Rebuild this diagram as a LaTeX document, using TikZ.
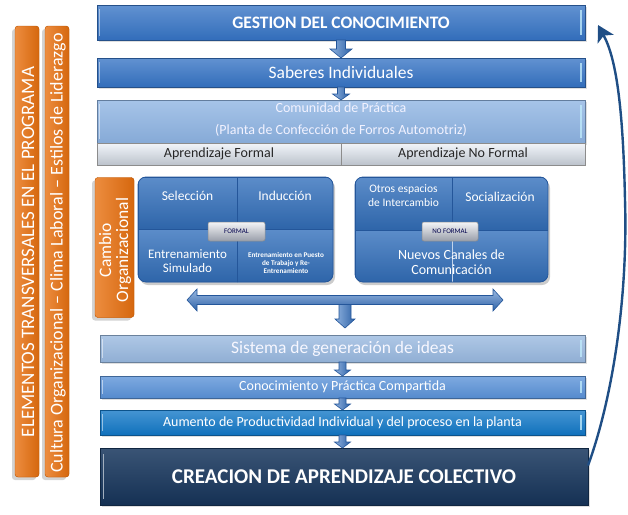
\documentclass[tikz,border=0pt]{standalone}
\usepackage{fontspec}
\setmainfont{Carlito}
\usetikzlibrary{calc,arrows.meta,shadows}
\definecolor{barblue}{HTML}{3573C4}
\definecolor{commblue}{HTML}{8DB3E2}
\definecolor{aprgray}{HTML}{DDE5F0}
\definecolor{cellblue}{HTML}{3370BC}
\definecolor{orangeb}{HTML}{E8700F}
\definecolor{sisblue}{HTML}{98B8DF}
\definecolor{conblue}{HTML}{5A92D8}
\definecolor{aumblue}{HTML}{1177C6}
\definecolor{navy}{HTML}{17365D}
\definecolor{curveblue}{HTML}{1F4E85}
\definecolor{edgeblue}{HTML}{24569A}
\definecolor{lblgray}{HTML}{B4BAC8}
\newcommand\blockdown[5]{%
  \draw[blockarrow] let \p1=(#1), \p2=(#2) in
   (\x1-#3pt,\y1) -- (\x1+#3pt,\y1) -- (\x1+#3pt,\y2+#5pt) -- (\x1+#4pt,\y2+#5pt)
   -- (\x1,\y2) -- (\x1-#4pt,\y2+#5pt) -- (\x1-#3pt,\y2+#5pt) -- cycle;}
\newcommand\barhl[1]{%
  \draw[white!75!cyan, line width=1.4pt, opacity=0.8]
    ([xshift=-4pt,yshift=-5pt]#1.north east) -- ([xshift=-4pt,yshift=5pt]#1.south east);
  \draw[white, line width=1pt, opacity=0.5]
    ([xshift=2.5pt,yshift=-4pt]#1.north west) -- ([xshift=2.5pt,yshift=4pt]#1.south west);}
\tikzset{
  fnt/.style 2 args={font=\fontsize{#1}{#2}\selectfont},
  shad/.style={drop shadow={opacity=0.25, shadow xshift=1.5pt, shadow yshift=-2pt}},
  hbar/.style={rectangle, draw=#1!70!black, line width=0.5pt, top color=#1!78!white,
     bottom color=#1!95!black, text=white, shad},
  cell/.style={rectangle, draw=edgeblue, line width=0.6pt, top color=cellblue!80!white,
     bottom color=cellblue!90!black},
  celltext/.style={text=white, align=center},
  lbl/.style={rectangle, rounded corners=2pt, draw=black!45, line width=0.5pt,
     top color=white!85!lblgray, bottom color=lblgray!85!black, minimum width=57,
     minimum height=19, text=black!70!blue, fnt={7}{8}},
  obar/.style={rectangle, rounded corners=3pt, fill=orangeb, left color=orangeb!80!white,
     right color=orangeb!92!black, draw=orangeb!80!black, line width=0.4pt,
     drop shadow={opacity=0.35, shadow xshift=-3pt, shadow yshift=-3pt}},
  blockarrow/.style={draw=edgeblue, line width=0.6pt, left color=barblue!55!white,
     right color=barblue!85!black},
  hblockarrow/.style={draw=edgeblue, line width=0.6pt, top color=barblue!50!white,
     bottom color=barblue!85!black},
  curvearrow/.style={draw=curveblue, line width=2.4pt,
     -{Stealth[length=16pt,width=18pt,inset=4pt]}},
}
\begin{document}
\begin{tikzpicture}[x=1pt,y=-1pt, every node/.style={inner sep=0pt, outer sep=0pt}]
\useasboundingbox (0,0) rectangle (628,514);

% orange side bars
\node[obar, minimum width=24, minimum height=451] (ob1) at (27,251.5) {};
\node[obar, minimum width=24, minimum height=451] (ob2) at (57,251.5) {};
\node[rotate=90, text=white, fnt={19}{20}] (ob1t) at (28,252) {ELEMENTOS TRANSVERSALES EN EL PROGRAMA};
\node[rotate=90, text=white, fnt={18}{20}] (ob2t) at (58,253) {Cultura Organizacional – Clima Laboral – Estilos de Liderazgo};

% top bars
\node[hbar=barblue, minimum width=488, minimum height=35, fnt={17.5}{20}] (gestion) at (341,22.5) {\bfseries GESTION DEL CONOCIMIENTO};
\node[hbar=barblue, minimum width=488, minimum height=29, fnt={17.5}{20}] (saberes) at (341,72.5) {Saberes Individuales};
\node[hbar=commblue, minimum width=488, minimum height=43] (comunidad) at (341,121.5) {};
\node[text=white!95!blue, fnt={14}{16}] (com1) at (341,108) {Comunidad de Práctica};
\node[text=white!95!blue, fnt={14}{16}] (com2) at (341,130) {(Planta de Confección de Forros Automotriz)};
\node[rectangle, draw=black!45, line width=0.5pt, top color=white!60!aprgray, bottom color=aprgray!85!black,
      minimum width=244, minimum height=22, fnt={14}{16}, text=black!85] (aprF) at (219,154) {Aprendizaje Formal};
\node[rectangle, draw=black!45, line width=0.5pt, top color=white!60!aprgray, bottom color=aprgray!85!black,
      minimum width=244, minimum height=22, fnt={14}{16}, text=black!85] (aprNF) at (463,154) {Aprendizaje No Formal};
\barhl{gestion}
\barhl{saberes}
\barhl{comunidad}

% arrows between top bars
\blockdown{gestion.south}{saberes.north}{4.5}{11}{9}
\blockdown{saberes.south}{comunidad.north}{3.5}{8.5}{6}

% Cambio organizacional
\node[obar, minimum width=39, minimum height=140] (cambio) at (114.5,247.5) {};
\node[rotate=90, text=white, align=center, fnt={17.5}{17}] (cambiot) at (115,250) {Cambio\\Organizacional};

% formal group
\fill[black, opacity=0.2, rounded corners=8pt] (140,180) rectangle (335,285);
\begin{scope}
\clip[rounded corners=8pt] (138,177) rectangle (333,282);
\node[cell, minimum width=99, minimum height=52] (sel) at (187.5,203) {};
\node[cell, minimum width=96, minimum height=52] (ind) at (285,203) {};
\node[cell, minimum width=99, minimum height=53] (sim) at (187.5,255.5) {};
\node[cell, minimum width=96, minimum height=53] (pue) at (285,255.5) {};
\end{scope}
\draw[edgeblue, line width=0.8pt, rounded corners=8pt] (138,177) rectangle (333,282);
\node[celltext, fnt={13.5}{15}] (tsel) at (187.5,196) {Selección};
\node[celltext, fnt={13.5}{15}] (tind) at (285,196) {Inducción};
\node[celltext, fnt={13}{13.5}] (tsim) at (187.5,261) {Entrenamiento\\Simulado};
\node[celltext, fnt={7.2}{8}] (tpue) at (286,262.5) {\bfseries Entrenamiento en Puesto\\\bfseries de Trabajo y Re-\\\bfseries Entrenamiento};
\node[lbl] (formal) at (236.5,231.5) {FORMAL};

% non formal group
\fill[black, opacity=0.2, rounded corners=8pt] (357,180) rectangle (550,285);
\begin{scope}
\clip[rounded corners=8pt] (355,177) rectangle (548,282);
\node[cell, minimum width=97, minimum height=53] (otros) at (403.5,203.5) {};
\node[cell, minimum width=96, minimum height=53] (soc) at (500,203.5) {};
\node[cell, minimum width=193, minimum height=52] (nuevos) at (451.5,256) {};
\end{scope}
\draw[white!70!cellblue, line width=0.5pt] (otros.south east) -- (otros.south east |- nuevos.south);
\draw[edgeblue, line width=0.8pt, rounded corners=8pt] (355,177) rectangle (548,282);
\node[celltext, fnt={11.5}{14}] (totros) at (403.5,195.5) {Otros espacios\\de Intercambio};
\node[celltext, fnt={13.5}{15}] (tsoc) at (500,197) {Socialización};
\node[celltext, fnt={14}{15}] (tnuevos) at (451.5,262.5) {Nuevos Canales de\\Comunicación};
\node[lbl, minimum width=56] (noformal) at (450,231.5) {NO FORMAL};

% lower bars
\node[hbar=sisblue, minimum width=485, minimum height=27, fnt={17.5}{20}, text=white!97!blue] (sistema) at (342.5,348.5) {Sistema de generación de ideas};
\node[hbar=conblue, minimum width=485, minimum height=22, fnt={14}{16}] (conoc) at (342.5,387) {Conocimiento y Práctica Compartida};
\node[hbar=aumblue, minimum width=485, minimum height=25, fnt={14}{16}] (aumento) at (342.5,422.5) {Aumento de Productividad Individual y del proceso en la planta};
\node[rectangle, draw=navy!70!black, line width=0.6pt, top color=navy!85!white, bottom color=navy!90!black,
      minimum width=488, minimum height=57, text=white, fnt={21}{24}, shad] (creacion) at (344,476.5) {\bfseries CREACION DE APRENDIZAJE COLECTIVO};
\barhl{sistema}
\barhl{conoc}
\barhl{aumento}
\draw[white!60!navy, line width=1pt] ([xshift=3pt,yshift=-6pt]creacion.north west) -- ([xshift=3pt,yshift=6pt]creacion.south west);

% central arrows
\coordinate (dl) at (187,300);
\coordinate (dr) at (503,300);
\coordinate (dc) at (345,303);
\coordinate (dt) at (345,328);
\blockdown{dc}{dt}{6}{10}{9}
\draw[hblockarrow] let \p1=(dl),\p2=(dr) in
  (\x1,\y1) -- (\x1+10pt,\y1+11pt) -- (\x1+10pt,\y1+4.5pt) -- (\x2-10pt,\y1+4.5pt)
  -- (\x2-10pt,\y1+11pt) -- (\x2,\y1) -- (\x2-10pt,\y1-11pt) -- (\x2-10pt,\y1-4.5pt)
  -- (\x1+10pt,\y1-4.5pt) -- (\x1+10pt,\y1-11pt) -- cycle;
\blockdown{sistema.south}{conoc.north}{3.5}{8}{6}
\blockdown{conoc.south}{aumento.north}{3.5}{8}{6}
\blockdown{aumento.south}{creacion.north}{3.5}{8}{6}

% feedback curve
\coordinate (cstart) at ([yshift=11pt]creacion.east);
\coordinate (ctip) at (598,25);
\draw[curvearrow] (cstart) .. controls (612,400) and (628,300) .. (625,200)
   .. controls (623,105) and (616,58) .. (ctip);
\end{tikzpicture}
\end{document}
